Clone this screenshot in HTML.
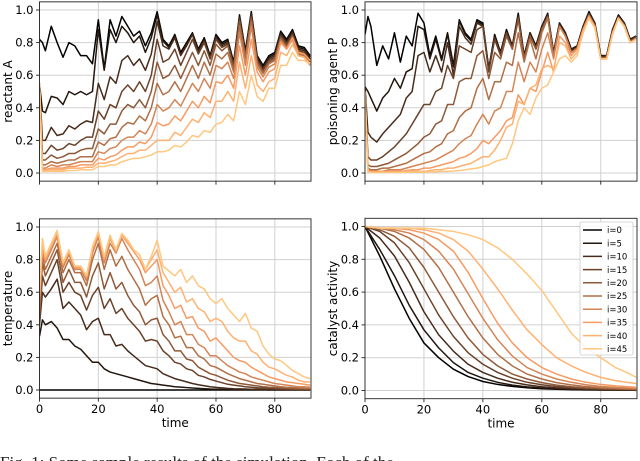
<!DOCTYPE html>
<html><head><meta charset="utf-8">
<style>
html,body{margin:0;padding:0;background:#fff;}
svg{display:block;}
text{font-family:"DejaVu Sans","Liberation Sans",sans-serif;fill:#000;}
.cap{font-family:"Liberation Serif",serif;font-size:17px;fill:#222;}
</style></head>
<body>
<svg id="fig" width="640" height="461" viewBox="0 0 640 461" xmlns="http://www.w3.org/2000/svg"></svg>
<script>
// ---- data ----
const seriesLabels = ["i=0","i=5","i=10","i=15","i=20","i=25","i=30","i=35","i=40","i=45"];
const seriesIdx = [0,5,10,15,20,25,30,35,40,45];
const timesA = [0,1,2,4,6,8,10,12,14,16,18,20,22,24,26,28,30,32,34,36,38,40,42,44,46,48,50,52,54,56,58,60,62,64,66,68,70,72,74,76,78,80,82,84,86,88,90,92];
const timesC = [0,5,10,15,20,25,30,35,40,45,50,55,60,65,70,75,80,85,90,92];
const yTicks = [0,0.2,0.4,0.6,0.8,1.0];
const yTickLabels = ["0.0","0.2","0.4","0.6","0.8","1.0"];
const xTicks = [0,20,40,60,80];
const xTickLabels = ["0","20","40","60","80"];

const reactA = [
[.82,.80,.75, .90,.80,.71,.80,.78,.72,.72,.67,.94, .64,.94,.84,.96,.90,.84,.87,.78,.86, .99,.82,.78,.85,.74,.80,.86,.76,.83, .72,.85,.80,.82,.68,.97,.75,.99,.72, .66,.72,.74,.87,.82,.88,.78,.77,.72],
[.55,.38,.37, .47,.46,.42,.50,.48,.50,.48,.50,.88, .63,.88,.80,.90,.86,.80,.84,.74,.83, .97,.81,.77,.84,.73,.79,.85,.75,.82, .71,.84,.79,.81,.67,.96,.74,.98,.71, .65,.71,.73,.86,.81,.87,.77,.76,.71],
[.55,.20,.20, .28,.23,.24,.29,.27,.30,.32,.31,.55, .45,.59,.55,.69,.72,.66,.70,.63,.73, .93,.78,.76,.83,.72,.78,.85,.74,.81, .70,.83,.78,.80,.66,.95,.73,.97,.70, .64,.70,.72,.85,.80,.86,.76,.75,.70],
[.55,.12,.12, .17,.14,.15,.18,.17,.20,.22,.22,.38, .33,.42,.40,.50,.54,.50,.56,.50,.60, .82,.68,.70,.76,.66,.74,.82,.73,.80, .70,.82,.77,.79,.65,.94,.72,.96,.69, .63,.69,.71,.84,.79,.85,.75,.74,.69],
[.55,.08,.08, .11,.09,.10,.12,.12,.14,.15,.15,.27, .24,.30,.30,.38,.42,.40,.45,.40,.50, .68,.58,.60,.66,.58,.66,.74,.66,.75, .66,.79,.75,.78,.64,.93,.71,.95,.68, .62,.68,.70,.83,.78,.84,.74,.73,.68],
[.55,.05,.05, .07,.06,.07,.08,.08,.10,.10,.10,.19, .17,.21,.22,.28,.31,.30,.35,.32,.40, .55,.48,.50,.56,.50,.58,.66,.58,.68, .60,.73,.70,.74,.62,.90,.70,.93,.67, .61,.67,.69,.82,.77,.83,.73,.72,.67],
[.55,.03,.03, .05,.04,.05,.05,.06,.07,.07,.07,.13, .12,.15,.16,.20,.22,.22,.26,.24,.30, .42,.38,.40,.45,.41,.48,.55,.50,.58, .52,.66,.64,.68,.58,.86,.66,.90,.65, .59,.65,.67,.81,.76,.82,.72,.71,.66],
[.55,.02,.02, .03,.03,.03,.04,.04,.05,.05,.05,.09, .08,.10,.11,.14,.16,.16,.19,.18,.22, .31,.29,.30,.35,.32,.38,.44,.40,.47, .43,.56,.55,.60,.52,.78,.60,.82,.62, .56,.62,.64,.80,.76,.83,.74,.73,.69],
[.55,.015,.015, .02,.02,.02,.03,.03,.03,.035,.035,.06, .06,.07,.08,.10,.12,.12,.14,.14,.17, .20,.20,.20,.25,.23,.28,.33,.31,.37, .34,.44,.44,.50,.44,.68,.52,.72,.54, .50,.56,.58,.74,.72,.79,.72,.71,.67],
[.55,.01,.01, .01,.01,.01,.015,.015,.02,.02,.02,.04, .04,.05,.05,.07,.08,.09,.09,.10,.11, .13,.13,.14,.17,.16,.19,.23,.22,.26, .25,.30,.31,.36,.32,.50,.42,.60,.47, .44,.52,.52,.66,.66,.74,.69,.69,.67]
];
const poisonP = [
[.85,.96,.90, .66,.78,.70,.86,.68,.84,.78,.98,.92, .72,.84,.70,.86,.66,.94,.86,.82,.94, .92,.64,.85,.74,.88,.78,.98,.72,.86, .78,.90,.98,.74,.92,.86,.76,.78,.90, .99,.92,.72,.72,.88,.97,.92,.82,.84],
[.53,.50,.46, .38,.46,.50,.58,.52,.62,.64,.90,.88, .70,.82,.69,.85,.65,.93,.85,.81,.93, .91,.64,.84,.74,.87,.78,.97,.72,.86, .78,.90,.97,.74,.92,.86,.76,.78,.90, .98,.92,.72,.72,.88,.96,.92,.82,.84],
[.53,.25,.22, .19,.24,.28,.32,.36,.46,.50,.72,.74, .62,.72,.62,.80,.60,.90,.83,.79,.92, .90,.63,.83,.73,.86,.77,.96,.71,.85, .77,.89,.97,.73,.91,.85,.75,.77,.89, .98,.91,.71,.72,.87,.96,.91,.81,.84],
[.50,.10,.08, .08,.10,.13,.16,.20,.24,.30,.36,.42, .42,.50,.52,.66,.58,.78,.76,.74,.88, .90,.62,.82,.72,.86,.76,.95,.70,.84, .76,.88,.96,.72,.90,.84,.74,.77,.89, .97,.91,.71,.71,.87,.96,.91,.81,.83],
[.50,.05,.04, .04,.05,.06,.08,.10,.12,.15,.18,.22, .24,.30,.32,.42,.42,.56,.58,.58,.72, .75,.58,.74,.70,.84,.76,.94,.70,.84, .76,.88,.96,.72,.90,.84,.74,.77,.88, .97,.90,.70,.71,.86,.95,.91,.81,.83],
[.50,.03,.02, .02,.03,.03,.04,.05,.06,.08,.10,.12, .13,.16,.18,.24,.26,.34,.38,.40,.52, .58,.45,.56,.56,.68,.66,.86,.68,.82, .70,.86,.95,.72,.90,.84,.74,.76,.88, .97,.90,.70,.71,.86,.95,.90,.80,.83],
[.50,.02,.01, .01,.01,.02,.02,.02,.03,.04,.05,.06, .07,.08,.10,.12,.14,.18,.21,.23,.30, .36,.30,.38,.40,.50,.50,.68,.56,.68, .62,.76,.86,.70,.90,.84,.74,.76,.88, .96,.90,.70,.70,.86,.95,.90,.80,.82],
[.50,.01,.01, .01,.01,.01,.01,.01,.015,.02,.02,.03, .03,.04,.05,.06,.07,.09,.10,.12,.15, .20,.18,.22,.26,.32,.34,.48,.42,.52, .50,.62,.74,.62,.84,.80,.72,.76,.88, .96,.90,.70,.70,.86,.95,.90,.80,.82],
[.50,.01,.005, .005,.005,.005,.005,.005,.01,.01,.01,.01, .015,.02,.02,.03,.03,.04,.05,.06,.08, .10,.10,.14,.20,.28,.30,.44,.42,.52, .54,.64,.66,.64,.80,.78,.70,.74,.86, .95,.89,.70,.70,.85,.95,.90,.80,.82],
[.50,.005,.003, .003,.003,.003,.003,.003,.005,.005,.005,.005, .006,.008,.01,.01,.012,.015,.02,.025,.03, .04,.05,.07,.08,.09,.18,.32,.40,.36, .46,.52,.54,.62,.70,.72,.68,.72,.86, .95,.89,.70,.70,.85,.95,.90,.80,.82]
];
const temperature = [
[0,0,0, 0,0,0,0,0,0,0,0,0, 0,0,0,0,0,0,0,0,0, 0,0,0,0,0,0,0,0,0, 0,0,0,0,0,0,0,0,0, 0,0,0,0,0,0,0,0,0],
[.33,.43,.40, .42,.38,.31,.31,.27,.25,.21,.17,.17, .13,.11,.10,.09,.08,.07,.06,.05,.04, .035,.03,.025,.02,.018,.015,.012,.01,.008, .006,.005,.004,.004,.003,.003,.002,.002,.002, .002,.001,.001,.001,.001,.001,.001,.001,.001],
[.40,.60,.57, .62,.68,.50,.54,.50,.46,.37,.42,.44, .34,.34,.27,.28,.24,.21,.18,.15,.14, .13,.10,.085,.07,.06,.05,.04,.032,.026, .02,.016,.013,.01,.008,.007,.006,.005,.004, .004,.003,.003,.002,.002,.002,.002,.001,.001],
[.42,.70,.64, .72,.80,.60,.66,.60,.58,.49,.58,.63, .50,.56,.47,.50,.44,.40,.36,.30,.31, .30,.24,.21,.17,.16,.13,.12,.09,.08, .065,.055,.045,.035,.03,.025,.02,.017,.014, .012,.01,.008,.007,.006,.005,.004,.004,.003],
[.45,.78,.70, .78,.86,.66,.74,.66,.66,.57,.70,.78, .62,.72,.62,.66,.58,.52,.48,.40,.43, .44,.34,.30,.24,.24,.19,.18,.14,.12, .10,.09,.075,.06,.05,.04,.035,.03,.025, .02,.017,.015,.012,.01,.009,.008,.007,.006],
[.50,.82,.74, .82,.90,.72,.80,.72,.72,.64,.80,.90, .74,.86,.76,.82,.74,.68,.62,.52,.56, .58,.45,.40,.32,.33,.26,.26,.21,.19, .15,.14,.12,.10,.085,.07,.06,.05,.04, .035,.03,.025,.02,.017,.015,.013,.011,.01],
[.55,.86,.78, .86,.94,.75,.83,.74,.74,.67,.84,.94, .78,.90,.84,.93,.86,.80,.74,.64,.66, .70,.55,.48,.40,.42,.34,.34,.28,.26, .21,.21,.18,.15,.13,.11,.10,.08,.07, .06,.05,.04,.035,.03,.025,.02,.02,.018],
[.57,.89,.80, .88,.96,.77,.85,.75,.75,.69,.86,.96, .80,.93,.85,.95,.90,.85,.80,.72,.76, .80,.64,.58,.50,.52,.44,.45,.38,.36, .30,.32,.28,.24,.20,.18,.17,.14,.12, .10,.08,.07,.06,.05,.045,.04,.035,.03],
[.58,.91,.81, .89,.97,.78,.86,.76,.76,.70,.87,.97, .81,.94,.86,.96,.91,.86,.83,.74,.80, .86,.72,.66,.60,.63,.54,.56,.50,.48, .42,.44,.42,.36,.32,.30,.30,.24,.22, .17,.14,.13,.11,.09,.08,.06,.05,.05],
[.60,.93,.82, .90,.98,.78,.86,.76,.76,.70,.88,.97, .82,.95,.86,.96,.92,.86,.83,.74,.82, .92,.76,.73,.70,.74,.66,.70,.64,.62, .56,.53,.56,.50,.46,.42,.47,.38,.36, .27,.22,.19,.18,.15,.12,.10,.08,.07]
];
const catalyst = [
[1,.82,.62,.44,.29,.20,.13,.085,.055,.037,.025,.017,.011,.008,.005,.004,.003,.002,.002,.001],
[1,.86,.70,.52,.37,.26,.17,.11,.075,.05,.033,.022,.015,.01,.007,.005,.004,.003,.002,.002],
[1,.93,.82,.66,.48,.34,.24,.16,.11,.075,.05,.034,.023,.016,.011,.008,.006,.004,.003,.003],
[1,.97,.90,.78,.62,.46,.33,.23,.16,.11,.075,.05,.035,.024,.017,.012,.009,.006,.005,.004],
[1,.98,.94,.87,.75,.60,.45,.32,.22,.15,.10,.07,.048,.033,.023,.016,.012,.009,.007,.006],
[1,.99,.97,.93,.86,.75,.60,.45,.32,.22,.15,.10,.07,.048,.034,.024,.017,.013,.01,.009],
[1,.99,.98,.96,.92,.85,.74,.59,.44,.31,.21,.14,.10,.07,.05,.035,.025,.019,.015,.013],
[1,.99,.99,.98,.96,.92,.85,.72,.56,.41,.29,.20,.14,.10,.07,.05,.037,.028,.022,.02],
[1,.99,.99,.99,.98,.96,.92,.85,.74,.62,.49,.37,.28,.20,.15,.11,.08,.06,.047,.043],
[1,.99,.99,.99,.99,.98,.97,.95,.92,.87,.80,.71,.61,.48,.35,.26,.20,.14,.10,.08]
];

// ---- rendering ----
const NS = "http://www.w3.org/2000/svg";
const svg = document.getElementById("fig");
function mk(tag, attrs, parent){ const e=document.createElementNS(NS,tag); for(const k in attrs) e.setAttribute(k,attrs[k]); (parent||svg).appendChild(e); return e; }
function copper(i){ const x=i/45; return `rgb(${Math.round(Math.min(1,1.25*x)*255)},${Math.round(0.7812*x*255)},${Math.round(0.4975*x*255)})`; }

const XMAX = 92.3;
function makeAxes(cfg){
  const g = mk("g",{});
  
  
  const xs = t => cfg.left + (t/XMAX)*(cfg.right-cfg.left);
  const ys = v => cfg.y0 - v*(cfg.y0-cfg.y1);
  const top = ys(1.05), bot = ys(-0.05);
  const cid = "clip-"+cfg.name;
  const cp = mk("clipPath",{id:cid},g); mk("rect",{x:cfg.left,y:top,width:cfg.right-cfg.left,height:bot-top},cp);
  const grid = mk("g",{},g);
  
  
  xTicks.forEach(t=>mk("line",{x1:xs(t),x2:xs(t),y1:top,y2:bot,stroke:"#d0d0d0","stroke-width":1},grid));
  yTicks.forEach(v=>mk("line",{x1:cfg.left,x2:cfg.right,y1:ys(v),y2:ys(v),stroke:"#d0d0d0","stroke-width":1},grid));
  const sg = mk("g",{"clip-path":`url(#${cid})`},g);
  cfg.data.forEach((arr,k)=>{
    const pts = arr.map((v,j)=>xs(cfg.times[j]).toFixed(2)+","+ys(v).toFixed(2)).join(" ");
    const pl = mk("polyline",{points:pts,fill:"none",stroke:copper(seriesIdx[k]),"stroke-width":1.5,"stroke-linejoin":"round"},sg);
    
    
  });
  const fr = mk("rect",{x:cfg.left,y:top,width:cfg.right-cfg.left,height:bot-top,fill:"none",stroke:"#222","stroke-width":0.9},g);
  
  
  yTicks.forEach((v,j)=>{
    mk("line",{x1:cfg.left-3.5,x2:cfg.left,y1:ys(v),y2:ys(v),stroke:"#222","stroke-width":0.9},g);
    const t = mk("text",{x:cfg.left-6,y:ys(v)+4,"text-anchor":"end","font-size":"11.5"},g);
    t.textContent = yTickLabels[j];
    
    
  });
  xTicks.forEach((v,j)=>{
    mk("line",{x1:xs(v),x2:xs(v),y1:bot,y2:bot+3.5,stroke:"#222","stroke-width":0.9},g);
    if(cfg.xlabels){
      const t = mk("text",{x:xs(v),y:bot+15,"text-anchor":"middle","font-size":"11.5"},g);
      t.textContent = xTickLabels[j];
      
      
    }
  });
  if(cfg.xlabels){
    const t = mk("text",{x:(cfg.left+cfg.right)/2,y:bot+29,"text-anchor":"middle","font-size":"12"},g);
    t.textContent = "time";
    
    
  }
  const yl = mk("text",{x:0,y:0,"text-anchor":"middle","font-size":"12",transform:`translate(${cfg.ylx},${(top+bot)/2}) rotate(-90)`},g);
  yl.textContent = cfg.ylabel;
  
  
  return {xs,ys};
}

makeAxes({name:"reactant-panel",left:39.5,right:311,y1:10,y0:173,times:timesA,data:reactA,xlabels:false,ylabel:"reactant A",ylx:12});
makeAxes({name:"poison-panel",left:365,right:637,y1:10,y0:173,times:timesA,data:poisonP,xlabels:false,ylabel:"poisoning agent P",ylx:337});
makeAxes({name:"temperature-panel",left:39.5,right:311,y1:227,y0:390,times:timesA,data:temperature,xlabels:true,ylabel:"temperature",ylx:12});
makeAxes({name:"catalyst-panel",left:365,right:637,y1:226.5,y0:390.5,times:timesC,data:catalyst,xlabels:true,ylabel:"catalyst activity",ylx:337});

const lg = mk("g",{});


mk("rect",{x:580,y:222,width:53,height:133,rx:2,fill:"#fff","fill-opacity":0.85,stroke:"#ccc","stroke-width":0.8},lg);
seriesLabels.forEach((lab,k)=>{
  const yy = 230 + k*13.2;
  const ent = mk("g",{},lg);
  
  
  mk("line",{x1:583,x2:602,y1:yy,y2:yy,stroke:copper(seriesIdx[k]),"stroke-width":1.5},ent);
  const t = mk("text",{x:607,y:yy+3.2,"font-size":"8.5"},ent);
  t.textContent = lab;
});

const cap = mk("text",{x:0,y:468,class:"cap"});
cap.textContent = "Fig. 1:   Some sample results of the simulation.   Each of the";


</script>
</body></html>
